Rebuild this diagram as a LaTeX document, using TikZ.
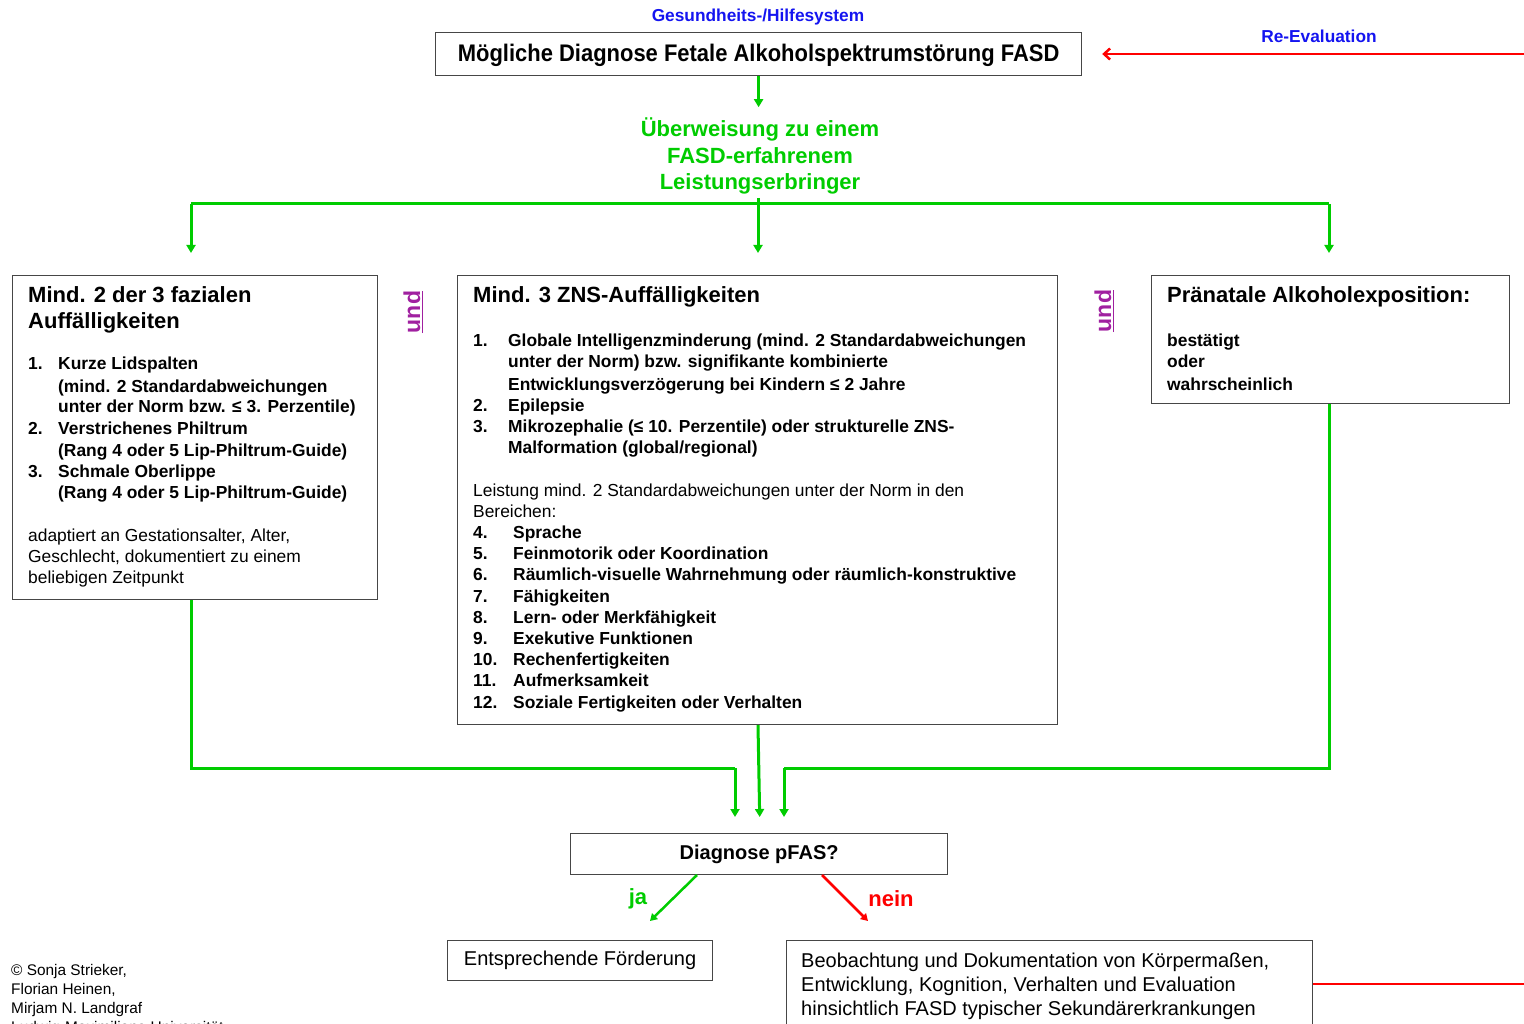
\documentclass[tikz,border=0pt]{standalone}
\usepackage{fontspec}
\setmainfont{Liberation Sans}
\usetikzlibrary{arrows.meta,calc}
\definecolor{fgreen}{RGB}{0,204,0}
\definecolor{fred}{RGB}{255,0,0}
\definecolor{fblue}{RGB}{20,20,240}
\definecolor{fpurple}{RGB}{160,32,160}
\definecolor{fbox}{RGB}{70,70,70}
\begin{document}
\begin{tikzpicture}[x=1pt,y=-1pt,
  box/.style={draw=fbox, line width=1.2pt, inner sep=0pt, anchor=north west},
  lb/.style={anchor=base west, inner sep=0pt, font=\fontsize{17.4}{20}\selectfont\bfseries},
  ln/.style={anchor=base west, inner sep=0pt, font=\fontsize{17.4}{20}\selectfont},
  hd/.style={anchor=base west, inner sep=0pt, font=\fontsize{22}{26}\selectfont\bfseries},
  gline/.style={draw=fgreen, line width=3pt},
  garrow/.style={draw=fgreen, line width=3pt, -{Triangle[length=8pt,width=9pt]}},
  rarrow/.style={draw=fred, line width=2.5pt, -{Straight Barb[length=6pt,width=11pt,line width=2.5pt]}},
  und/.style={rotate=90, text=fpurple, font=\fontsize{23}{26}\selectfont\bfseries, inner sep=0pt}
]
\useasboundingbox (0,0) rectangle (1524,1024);

% top
\node[text=fblue, font=\fontsize{17.3}{20}\selectfont\bfseries, inner sep=0pt] (hilfe) at (758,17) {Gesundheits-/Hilfesystem};
\node[box, minimum width=646pt, minimum height=43pt] (top) at (435,32) {};
\node[font=\fontsize{24}{28}\selectfont\bfseries, inner sep=0pt] (toptxt) at ([yshift=-1pt]top.center) {\scalebox{0.915}[1]{Mögliche Diagnose Fetale Alkoholspektrumstörung FASD}};
\node[text=fblue, font=\fontsize{17.3}{20}\selectfont\bfseries, inner sep=0pt] (reeval) at (1319,36) {Re-Evaluation};
\coordinate (restart) at (1524,54);
\draw[rarrow, shorten >=20pt] (restart) -- (restart -| top.east);

% referral
\node[text=fgreen, font=\fontsize{22}{26.5}\selectfont\bfseries, align=center, inner sep=0pt] (ueber) at (760,156) {Überweisung zu einem\\FASD-erfahrenem\\Leistungserbringer};
\draw[garrow] (top.south) -- ++(0,31);

% boxes
\node[box, minimum width=365pt, minimum height=324pt] (left) at (12,275) {};
\node[box, minimum width=600pt, minimum height=449pt] (mid) at (457,275) {};
\node[box, minimum width=358pt, minimum height=128pt] (right) at (1151,275) {};

% bus
\coordinate (busL) at (191,204);
\coordinate (busR) at (1329,204);
\coordinate (busM) at (758,198);
\draw[gline] (busL) -- (busR);
\draw[garrow, shorten >=22pt] (busL) -- (busL |- left.north);
\draw[garrow, shorten >=22pt] (busM) -- (busM |- mid.north);
\draw[garrow, shorten >=22pt] (busR) -- (busR |- right.north);

% und
\node[und] (und1) at (413,312) {\underline{und}};
\node[und] (und2) at (1104,311) {\underline{und}};

% left box text
\node[hd] at (28,303) {Mind. 2 der 3 fazialen};
\node[hd] at (28,329) {Auffälligkeiten};
\node[lb] at (28,370) {1.};
\node[lb] at (58,370) {Kurze Lidspalten};
\node[lb] at (58,392) {(mind. 2 Standardabweichungen};
\node[lb] at (58,413) {unter der Norm bzw. ≤ 3. Perzentile)};
\node[lb] at (28,434) {2.};
\node[lb] at (58,434) {Verstrichenes Philtrum};
\node[lb] at (58,456) {(Rang 4 oder 5 Lip-Philtrum-Guide)};
\node[lb] at (28,477) {3.};
\node[lb] at (58,477) {Schmale Oberlippe};
\node[lb] at (58,498) {(Rang 4 oder 5 Lip-Philtrum-Guide)};
\node[ln] at (28,541) {adaptiert an Gestationsalter, Alter,};
\node[ln] at (28,562) {Geschlecht, dokumentiert zu einem};
\node[ln] at (28,583) {beliebigen Zeitpunkt};

% middle box text
\node[hd] at (473,303) {Mind. 3 ZNS-Auffälligkeiten};
\node[lb] at (473,347) {1.};
\node[lb] at (508,347) {Globale Intelligenzminderung (mind. 2 Standardabweichungen};
\node[lb] at (508,368) {unter der Norm) bzw. signifikante kombinierte};
\node[lb] at (508,390) {Entwicklungsverzögerung bei Kindern ≤ 2 Jahre};
\node[lb] at (473,411) {2.};
\node[lb] at (508,411) {Epilepsie};
\node[lb] at (473,432) {3.};
\node[lb] at (508,432) {Mikrozephalie (≤ 10. Perzentile) oder strukturelle ZNS-};
\node[lb] at (508,453) {Malformation (global/regional)};
\node[ln] at (473,496) {Leistung mind. 2 Standardabweichungen unter der Norm in den};
\node[ln] at (473,517) {Bereichen:};
\foreach \y/\n/\t in {538/4./Sprache, 559/5./Feinmotorik oder Koordination, 580/6./Räumlich-visuelle Wahrnehmung oder räumlich-konstruktive, 602/7./Fähigkeiten, 623/8./Lern- oder Merkfähigkeit, 644/9./Exekutive Funktionen, 665/10./Rechenfertigkeiten, 686/11./Aufmerksamkeit, 708/12./Soziale Fertigkeiten oder Verhalten}{
  \node[lb] at (473,\y) {\n};
  \node[lb] at (513,\y) {\t};
}

% right box text
\node[hd] at (1167,303) {Pränatale Alkoholexposition:};
\node[lb] at (1167,347) {bestätigt};
\node[lb] at (1167,368) {oder};
\node[lb] at (1167,390) {wahrscheinlich};

% diagnosis
\node[box, minimum width=377pt, minimum height=41pt] (diag) at (570,833) {};
\node[font=\fontsize{20}{24}\selectfont\bfseries, inner sep=0pt] (diagtxt) at (diag.center) {Diagnose pFAS?};

\coordinate (jL) at (191,768);
\coordinate (jLe) at (735,768);
\coordinate (jR) at (1329,768);
\coordinate (jRe) at (784,768);
\draw[gline] (left.south -| jL) |- (jLe);
\draw[garrow, shorten >=16pt] (jLe) -- (jLe |- diag.north);
\draw[gline] (right.south -| jR) |- (jRe);
\draw[garrow, shorten >=16pt] (jRe) -- (jRe |- diag.north);
\coordinate (mIn) at (760,833);
\draw[garrow, shorten >=16pt] (mid.south -| 758,0) -- (mIn);

% outcomes
\node[box, minimum width=265pt, minimum height=40pt] (foerd) at (447,940) {};
\node[font=\fontsize{20}{24}\selectfont, inner sep=0pt] (foerdtxt) at (foerd.center) {Entsprechende Förderung};
\node[box, minimum width=526pt, minimum height=100pt] (beob) at (786,940) {};
\node[anchor=base west, inner sep=0pt, font=\fontsize{20}{24}\selectfont] at (801,967) {Beobachtung und Dokumentation von Körpermaßen,};
\node[anchor=base west, inner sep=0pt, font=\fontsize{20}{24}\selectfont] at (801,991) {Entwicklung, Kognition, Verhalten und Evaluation};
\node[anchor=base west, inner sep=0pt, font=\fontsize{20}{24}\selectfont] at (801,1015) {hinsichtlich FASD typischer Sekundärerkrankungen};

\coordinate (jaS) at (697,875);
\coordinate (jaE) at (650,921);
\coordinate (neinS) at (822,875);
\coordinate (neinE) at (868,921);
\draw[draw=fgreen, line width=2.5pt, -{Triangle[length=7pt,width=8pt]}] (jaS) -- (jaE);
\draw[draw=fred, line width=2.5pt, -{Triangle[length=7pt,width=8pt]}] (neinS) -- (neinE);
\node[text=fgreen, font=\fontsize{22}{26}\selectfont\bfseries, inner sep=0pt] (ja) at (638,899) {ja};
\node[text=fred, font=\fontsize{22}{26}\selectfont\bfseries, inner sep=0pt] (nein) at (891,899) {nein};

\coordinate (reend) at (1524,984);
\draw[draw=fred, line width=2.5pt] (beob.east |- reend) -- (reend);

% copyright
\node[anchor=base west, inner sep=0pt, font=\fontsize{15.4}{18}\selectfont] at (11,975) {© Sonja Strieker,};
\node[anchor=base west, inner sep=0pt, font=\fontsize{15.4}{18}\selectfont] at (11,994) {Florian Heinen,};
\node[anchor=base west, inner sep=0pt, font=\fontsize{15.4}{18}\selectfont] at (11,1013) {Mirjam N. Landgraf};
\node[anchor=base west, inner sep=0pt, font=\fontsize{15.4}{18}\selectfont] at (11,1032) {Ludwig-Maximilians-Universität};
\end{tikzpicture}
\end{document}
